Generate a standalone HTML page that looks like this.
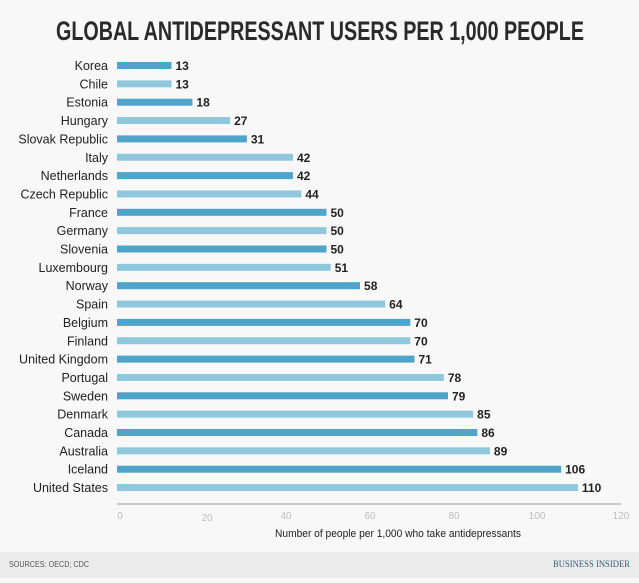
<!DOCTYPE html>
<html><head><meta charset="utf-8"><style>
body{margin:0;width:639px;height:578px;background:#f8f8f8;overflow:hidden;font-family:"Liberation Sans",sans-serif}
</style></head><body>
<svg width="639" height="578" xmlns="http://www.w3.org/2000/svg" font-family="Liberation Sans, sans-serif">
<rect width="639" height="578" fill="#f8f8f8"/>
<text x="320" y="40" text-anchor="middle" font-size="27" font-weight="bold" fill="#2a2a2a" textLength="528" lengthAdjust="spacingAndGlyphs">GLOBAL ANTIDEPRESSANT USERS PER 1,000 PEOPLE</text>
<g id="bars"></g>
<line x1="117" y1="504" x2="621" y2="504" stroke="#b8b8b8" stroke-width="1.5"/>
<g font-size="10" fill="#bdbdbd" text-anchor="middle">
<text x="120" y="519">0</text><text x="207" y="521">20</text><text x="286" y="519">40</text><text x="370" y="519">60</text><text x="454" y="519">80</text><text x="537" y="519">100</text><text x="621" y="519">120</text>
</g>
<text x="398" y="537" text-anchor="middle" font-size="11" fill="#222" textLength="246" lengthAdjust="spacingAndGlyphs">Number of people per 1,000 who take antidepressants</text>
<rect x="0" y="552" width="639" height="26" fill="#ececec"/>
<text x="9" y="567" font-size="8" fill="#555" textLength="80" lengthAdjust="spacingAndGlyphs">SOURCES: OECD; CDC</text>
<text x="630" y="567" text-anchor="end" font-size="9" fill="#2f5c78" font-family="Liberation Serif, serif" textLength="77" lengthAdjust="spacingAndGlyphs">BUSINESS INSIDER</text>
</svg>
<script>
var d=[["Korea",13],["Chile",13],["Estonia",18],["Hungary",27],["Slovak Republic",31],["Italy",42],["Netherlands",42],["Czech Republic",44],["France",50],["Germany",50],["Slovenia",50],["Luxembourg",51],["Norway",58],["Spain",64],["Belgium",70],["Finland",70],["United Kingdom",71],["Portugal",78],["Sweden",79],["Denmark",85],["Canada",86],["Australia",89],["Iceland",106],["United States",110]];
var g=document.getElementById("bars"),s="";
d.forEach(function(r,i){var y=65.5+i*18.35,w=r[1]*4.19;
s+='<text x="108" y="'+(y+4.5)+'" text-anchor="end" font-size="12.5" fill="#222">'+r[0]+'</text>';
s+='<rect x="117" y="'+(y-3.5)+'" width="'+w+'" height="7" fill="'+(i%2?"#8fc8dc":"#4ea4c9")+'"/>';
s+='<text x="'+(121+w)+'" y="'+(y+4.5)+'" font-size="12" font-weight="bold" fill="#222">'+r[1]+'</text>';});
g.innerHTML=s;
</script>
</body></html>
